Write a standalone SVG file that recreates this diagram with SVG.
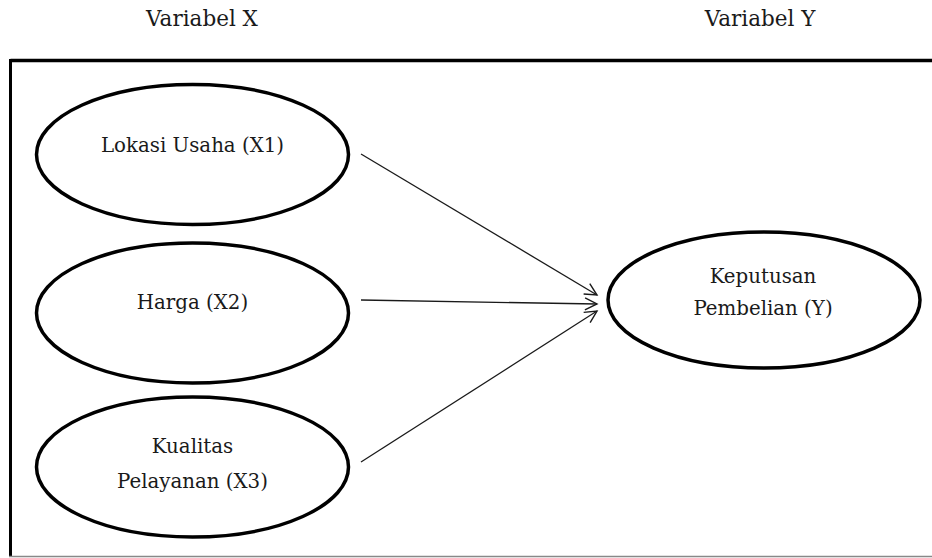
<svg xmlns="http://www.w3.org/2000/svg" width="932" height="558" viewBox="0 0 932 558">
<style>
text{font-family:'DejaVu Serif','Liberation Serif',serif;fill:#1a1a1a;text-anchor:middle}
.t{font-size:19.8px}
.h{font-size:21.5px}
.e{fill:#fff;stroke:#000;stroke-width:3.5}
.c{stroke:#1a1a1a;stroke-width:1.3;fill:none}
</style>
<defs>
<marker id="arr" markerUnits="userSpaceOnUse" markerWidth="16" markerHeight="14" refX="13" refY="7" orient="auto">
<path d="M1,1 L13,7 L1,13" fill="none" stroke="#1a1a1a" stroke-width="1.4"/>
</marker>
</defs>
<rect width="932" height="558" fill="#fff"/>
<text class="h" x="202" y="26">Variabel X</text>
<text class="h" x="760" y="26">Variabel Y</text>
<g id="frame">
<line x1="10.5" y1="60.5" x2="932" y2="60.5" stroke="#000" stroke-width="3.5"/>
<line x1="10.5" y1="59" x2="10.5" y2="557" stroke="#000" stroke-width="3"/>
<line x1="9" y1="556.5" x2="932" y2="556.5" stroke="#888" stroke-width="1.5"/>
</g>
<g id="connectors">
<line class="c" x1="361" y1="154" x2="597" y2="295" marker-end="url(#arr)"/>
<line class="c" x1="361" y1="300" x2="597" y2="304" marker-end="url(#arr)"/>
<line class="c" x1="361" y1="462" x2="597" y2="311" marker-end="url(#arr)"/>
</g>
<g id="x1">
<ellipse class="e" cx="192.5" cy="154.5" rx="156" ry="70"/>
<text class="t" x="192.5" y="152">Lokasi Usaha (X1)</text>
</g>
<g id="x2">
<ellipse class="e" cx="192.5" cy="313" rx="156" ry="70"/>
<text class="t" x="192.5" y="309">Harga (X2)</text>
</g>
<g id="x3">
<ellipse class="e" cx="192.5" cy="467" rx="156" ry="70"/>
<text class="t" x="192.5" y="453">Kualitas</text>
<text class="t" x="192.5" y="487.5">Pelayanan (X3)</text>
</g>
<g id="y">
<ellipse class="e" cx="764" cy="300" rx="156" ry="68"/>
<text class="t" x="763" y="283">Keputusan</text>
<text class="t" x="763" y="315">Pembelian (Y)</text>
</g>
</svg>
